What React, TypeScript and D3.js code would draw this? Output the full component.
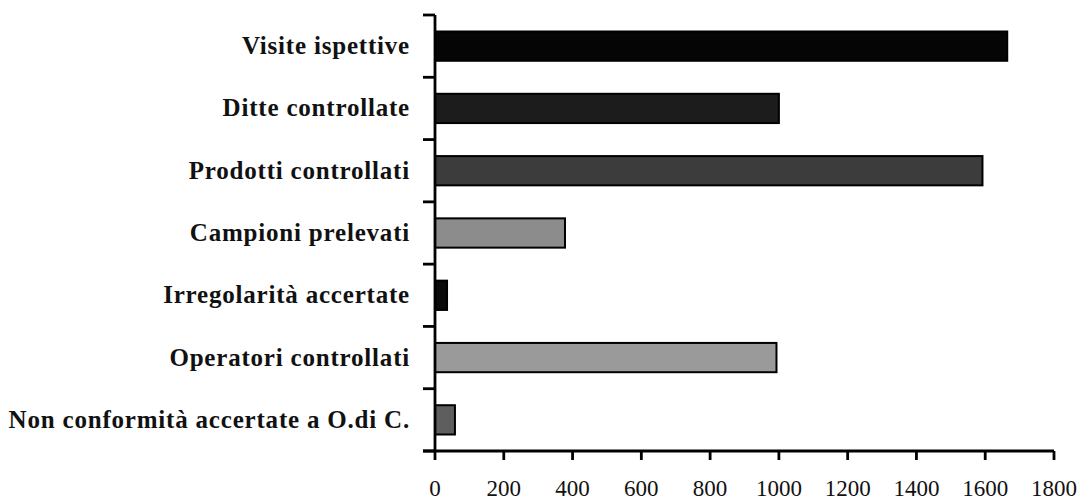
import React from 'react';
import { useRef, useEffect } from 'react';
import { select, scaleLinear, scaleBand, range } from "d3";

const categories = [
    "Visite ispettive",
    "Ditte controllate",
    "Prodotti controllati",
    "Campioni prelevati",
    "Irregolarità accertate",
    "Operatori controllati",
    "Non conformità accertate a O.di C.",
];
const values = [1664, 1000, 1592, 378, 35, 993, 58];
const fills = ["#050505", "#1c1c1c", "#3c3c3c", "#8c8c8c", "#0a0a0a", "#9a9a9a", "#5e5e5e"];
const xTicks = [0, 200, 400, 600, 800, 1000, 1200, 1400, 1600, 1800];

const W = 1079, H = 504;
const FONT = "'Liberation Serif', 'DejaVu Serif', serif";

function BarChart() {
    const svgRef = useRef<SVGSVGElement>(null);

    useEffect(() => {
        const svg = select(svgRef.current);
        svg.selectAll("*").remove();

        const x0 = 435, x1 = 1054, y0 = 15, y1 = 451;
        const xScale = scaleLinear().domain([0, 1800]).range([x0, x1]);
        const yScale = scaleBand().domain(categories).range([y0, y1]).paddingInner(0.53).paddingOuter(0.265);
        const step = yScale.step();

        // bars
        svg.selectAll(".bar")
            .data(categories)
            .join("rect")
            .attr("class", "bar")
            .attr("x", x0)
            .attr("y", (d) => yScale(d)!)
            .attr("width", (d, i) => xScale(values[i]) - x0)
            .attr("height", yScale.bandwidth())
            .attr("fill", (d, i) => fills[i])
            .attr("stroke", "#000")
            .attr("stroke-width", 2);

        // axes drawn by hand, like the scanned original
        const g = svg.append("g").attr("stroke", "#000").attr("stroke-width", 2.8);
        g.append("line").attr("x1", x0).attr("x2", x0).attr("y1", y0).attr("y2", y1);
        g.selectAll(".ytick")
            .data(range(categories.length + 1))
            .join("line")
            .attr("x1", x0 - 12).attr("x2", x0)
            .attr("y1", (i) => y0 + i * step).attr("y2", (i) => y0 + i * step);

        g.append("line").attr("x1", x0 - 12).attr("x2", x1).attr("y1", y1).attr("y2", y1);
        g.selectAll(".xtick")
            .data(xTicks)
            .join("line")
            .attr("x1", (d) => xScale(d)).attr("x2", (d) => xScale(d))
            .attr("y1", y1).attr("y2", y1 + 9);

        svg.selectAll(".xlabel")
            .data(xTicks)
            .join("text")
            .attr("x", (d) => xScale(d))
            .attr("y", 496)
            .attr("text-anchor", "middle")
            .attr("font-family", FONT)
            .attr("font-size", 23)
            .attr("fill", "#111")
            .text((d) => d);

        svg.selectAll(".ylabel")
            .data(categories)
            .join("text")
            .attr("x", 410)
            .attr("y", (d) => yScale(d)! + yScale.bandwidth() / 2 + 8)
            .attr("text-anchor", "end")
            .attr("font-family", FONT)
            .attr("font-size", 25)
            .attr("font-weight", "bold")
            .attr("letter-spacing", 0.8)
            .attr("fill", "#111")
            .text((d) => d);
    }, []);

    return (
        <svg ref={svgRef} width={W} height={H}
            style={{ position: "absolute", left: 0, top: 0, background: "#fff" }} />
    );
}

export default function App() {
    return <BarChart />;
}
